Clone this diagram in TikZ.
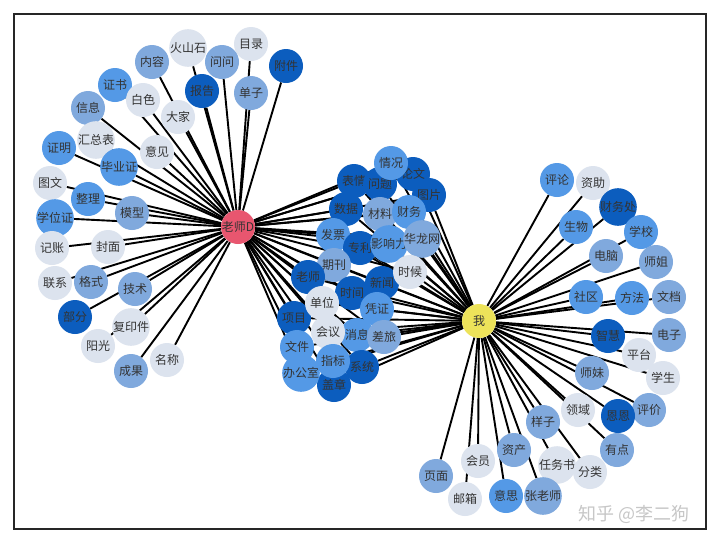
\documentclass[tikz,border=0pt]{standalone}
\usepackage{fontspec}
\newfontfamily\cjk{Noto Sans CJK SC}
\usetikzlibrary{backgrounds}
\definecolor{cL}{HTML}{DCE3EE}
\definecolor{cML}{HTML}{80A9DD}
\definecolor{cM}{HTML}{5499E6}
\definecolor{cD}{HTML}{0C5DBE}
\definecolor{cP}{HTML}{E8566F}
\definecolor{cY}{HTML}{EDE35A}
\tikzset{
  nd/.style={circle, minimum size=34pt, inner sep=0pt, text=black!80, font=\cjk\fontsize{12}{12}\selectfont},
  L/.style={nd, fill=cL}, ML/.style={nd, fill=cML}, M/.style={nd, fill=cM}, D/.style={nd, fill=cD},
  ed/.style={line width=1.9pt, black}
}
\begin{document}
\begin{tikzpicture}[x=1pt,y=-1pt]
\useasboundingbox (0,0) rectangle (720,544);
% left cluster
\node[L]  (a1) at (188,48) {火山石};
\node[L]  (a2) at (251,44) {目录};
\node[ML] (a3) at (152,62) {内容};
\node[ML] (a4) at (222,62) {问问};
\node[D]  (a5) at (286,66) {附件};
\node[M]  (a6) at (115,85) {证书};
\node[D]  (a7) at (202,91) {报告};
\node[ML] (a8) at (251,93) {单子};
\node[L]  (a9) at (143,100) {白色};
\node[ML] (a10) at (88,108) {信息};
\node[L]  (a11) at (178,117) {大家};
\node[L]  (a12) at (96,140) {汇总表};
\node[L]  (a13) at (157,152) {意见};
\node[M]  (a14) at (59,148) {证明};
\node[M]  (a15) at (119,167) {毕业证};
\node[L]  (a16) at (50,183) {图文};
\node[M]  (a17) at (88,199) {整理};
\node[ML] (a18) at (132,213) {模型};
\node[M]  (a19) at (55,218) {学位证};
\node[L]  (a20) at (52,248) {记账};
\node[L]  (a21) at (108,247) {封面};
\node[L]  (a22) at (55,283) {联系};
\node[ML] (a23) at (91,282) {格式};
\node[ML] (a24) at (135,289) {技术};
\node[D]  (a25) at (75,317) {部分};
\node[L]  (a26) at (131,327) {复印件};
\node[L]  (a27) at (98,346) {阳光};
\node[L]  (a28) at (167,360) {名称};
\node[ML] (a29) at (131,371) {成果};
% middle cluster
\node[D]  (m1) at (413,174) {论文};
\node[D]  (m2) at (354,181) {表情};
\node[D]  (m3) at (380,184) {问题};
\node[M]  (m4) at (391,163) {情况};
\node[D]  (m5) at (429,195) {图片};
\node[D]  (m6) at (346,209) {数据};
\node[ML] (m7) at (380,214) {材料};
\node[M]  (m8) at (409,212) {财务};
\node[M]  (m9) at (333,235) {发票};
\node[D]  (m10) at (360,248) {专利};
\node[M]  (m11) at (389,244) {影响力};
\node[ML] (m12) at (422,239) {华龙网};
\node[ML] (m13) at (334,265) {期刊};
\node[D]  (m14) at (308,277) {老师};
\node[D]  (m15) at (382,283) {新闻};
\node[L]  (m16) at (410,272) {时候};
\node[D]  (m17) at (352,293) {时间};
\node[D]  (m18) at (294,318) {项目};
\node[L]  (m19) at (322,303) {单位};
\node[M]  (m20) at (377,309) {凭证};
\node[M]  (m21) at (357,335) {消息};
\node[L]  (m22) at (328,332) {会议};
\node[ML] (m23) at (384,337) {差旅};
\node[D]  (m24) at (362,367) {系统};
\node[M]  (m25) at (297,347) {文件};
\node[D]  (m26) at (334,385) {盖章};
\node[M]  (m27) at (301,373) {办公室};
\node[M]  (m28) at (333,361) {指标};
% right cluster
\node[M]  (r1) at (557,180) {评论};
\node[L]  (r2) at (593,183) {资助};
\node[D]  (r3) at (618,207) {财务处};
\node[M]  (r4) at (576,227) {生物};
\node[M]  (r5) at (641,232) {学校};
\node[ML] (r6) at (606,256) {电脑};
\node[ML] (r7) at (656,262) {师姐};
\node[M]  (r8) at (586,297) {社区};
\node[M]  (r9) at (632,298) {方法};
\node[ML] (r10) at (669,297) {文档};
\node[D]  (r11) at (608,336) {智慧};
\node[ML] (r12) at (669,335) {电子};
\node[L]  (r13) at (639,355) {平台};
\node[ML] (r14) at (592,373) {师妹};
\node[L]  (r15) at (663,378) {学生};
\node[L]  (r16) at (578,410) {领域};
\node[ML] (r17) at (649,410) {评价};
\node[D]  (r18) at (618,416) {恩恩};
\node[ML] (r19) at (543,422) {样子};
\node[ML] (r20) at (617,450) {有点};
\node[ML] (r21) at (514,450) {资产};
\node[L]  (r22) at (478,461) {会员};
\node[ML] (r23) at (436,476) {页面};
\node[L]  (r24) at (557,465) {任务书};
\node[L]  (r25) at (590,472) {分类};
\node[L]  (r26) at (465,499) {邮箱};
\node[M]  (r27) at (506,496) {意思};
\node[ML] (r28) at (543,496) {张老师};
% centres
\node[nd, fill=cP] (T) at (238,227) {老师D};
\node[nd, fill=cY] (W) at (479,321) {我};
\begin{scope}[on background layer]
\fill[white] (0,0) rectangle (720,544);
\foreach \i in {1,...,29} \draw[ed] (T) -- (a\i);
\foreach \i in {1,...,28} {\draw[ed] (T) -- (m\i); \draw[ed] (W) -- (m\i);}
\foreach \i in {1,...,28} \draw[ed] (W) -- (r\i);
\end{scope}
\node[text=black!22, font=\cjk\fontsize{18}{18}\selectfont] (wm) at (634,514) {知乎 @李二狗};
\draw[black!85, line width=1.3pt] (14,14) rectangle (706,529);
\end{tikzpicture}
\end{document}
